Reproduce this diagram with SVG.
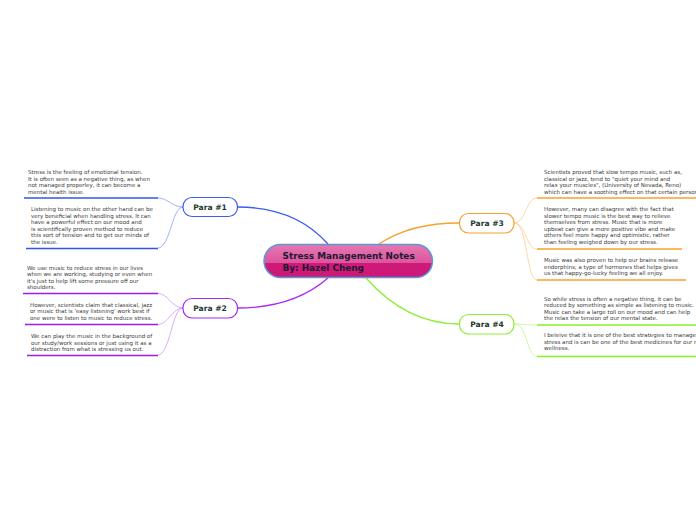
<svg xmlns="http://www.w3.org/2000/svg" width="696" height="520" viewBox="0 0 696 520">
<defs>
<linearGradient id="cg" x1="0" y1="0" x2="0" y2="1">
<stop offset="0" stop-color="#e678b2"/>
<stop offset="0.55" stop-color="#dc559e"/>
<stop offset="0.56" stop-color="#cf1a7a"/>
<stop offset="1" stop-color="#cc1877"/>
</linearGradient>
</defs>
<style>
.t{font-family:"DejaVu Sans",Verdana,sans-serif;font-size:5.5px;fill:#3a3a3a}
.p{font-family:"DejaVu Sans",Verdana,sans-serif;font-size:7.6px;font-weight:bold;fill:#1c3a2c;text-anchor:middle}
.c{font-family:"DejaVu Sans",Verdana,sans-serif;font-size:8.9px;font-weight:bold;fill:#1a1a30}
.box{fill:#fff;stroke-width:1.2}
.m{fill:none;stroke-width:1.3}
.l{fill:none;stroke-width:0.7}
.u{fill:none;stroke-width:1.6}
</style>
<g id="connectors">
<path class="m" stroke="#3a5cf0" d="M328 244 C305 218 275 207 237.5 207"/>
<path class="m" stroke="#a82af0" d="M328 278 C305 298 275 308 237.5 308"/>
<path class="m" stroke="#f7a132" d="M379 244 C400 230 425 223 459 223"/>
<path class="m" stroke="#8def35" d="M366 278 C390 305 420 324 459 324"/>
<path class="l" stroke="#7a90f5" d="M183 207 C172 207 168 198 158 198"/>
<path class="l" stroke="#7a90f5" d="M183 207 C172 207 170 248 158 248"/>
<path class="l" stroke="#cc88f5" d="M183 308 C172 308 168 293.5 158 293.5"/>
<path class="l" stroke="#cc88f5" d="M183 308 C172 308 168 324.5 158 324.5"/>
<path class="l" stroke="#cc88f5" d="M183 308 C172 308 170 355 158 355"/>
<path class="l" stroke="#fbc880" d="M514 223 C526 223 526 198 537 198"/>
<path class="l" stroke="#fbc880" d="M514 223 C526 223 526 249 537 249"/>
<path class="l" stroke="#fbc880" d="M514 223 C528 223 526 280 537 280"/>
<path class="l" stroke="#b8f585" d="M514 324 C526 324 526 325 537 325"/>
<path class="l" stroke="#b8f585" d="M514 324 C528 324 526 356 537 356"/>
<path class="u" stroke="#2f55ee" d="M24 198 H158"/>
<path class="u" stroke="#2f55ee" d="M26 248.5 H158"/>
<path class="u" stroke="#9b1ee8" d="M23 293.5 H158"/>
<path class="u" stroke="#9b1ee8" d="M25 324.5 H158"/>
<path class="u" stroke="#9b1ee8" d="M27 355.5 H158"/>
<path class="u" stroke="#f7a12c" d="M537 198 H696"/>
<path class="u" stroke="#f7a12c" d="M537 249 H682"/>
<path class="u" stroke="#f7a12c" d="M537 280 H686"/>
<path class="u" stroke="#88ee28" d="M537 325 H696"/>
<path class="u" stroke="#88ee28" d="M537 356.5 H696"/>
</g>
<g id="center">
<rect x="264" y="244.5" width="168.5" height="33" rx="16.5" fill="url(#cg)" stroke="#5a9ad2" stroke-width="1.5"/>
<text class="c" x="282.5" y="259">Stress Management Notes</text>
<text class="c" x="282.5" y="270.5">By: Hazel Cheng</text>
</g>
<g id="para1">
<rect class="box" x="183" y="197.5" width="54.5" height="19" rx="9" stroke="#3a5cf0"/>
<text class="p" x="210" y="210">Para #1</text>
</g>
<g id="para2">
<rect class="box" x="183" y="298.5" width="54.5" height="19.5" rx="9" stroke="#a82af0"/>
<text class="p" x="210" y="311">Para #2</text>
</g>
<g id="para3">
<rect class="box" x="459.5" y="213.5" width="54.5" height="19.5" rx="9" stroke="#f7a132"/>
<text class="p" x="487" y="226">Para #3</text>
</g>
<g id="para4">
<rect class="box" x="459.5" y="314.5" width="54.5" height="19.5" rx="9" stroke="#8def35"/>
<text class="p" x="487" y="327">Para #4</text>
</g>
<g id="leaf1a">
<text class="t" x="28" y="174">Stress is the feeling of emotional tension.</text>
<text class="t" x="28" y="180.6">It is often seen as a negative thing, as when</text>
<text class="t" x="28" y="187.2">not managed properley, it can become a</text>
<text class="t" x="28" y="193.8">mental health issue.</text>
</g>
<g id="leaf1b">
<text class="t" x="31" y="211">Listening to music on the other hand can be</text>
<text class="t" x="31" y="217.6">very beneficial when handling stress. It can</text>
<text class="t" x="31" y="224.2">have a powerful effect on our mood and</text>
<text class="t" x="31" y="230.8">is scientifically proven method to reduce</text>
<text class="t" x="31" y="237.4">this sort of tension and to get our minds of</text>
<text class="t" x="31" y="244">the issue.</text>
</g>
<g id="leaf2a">
<text class="t" x="27" y="270">We use music to reduce stress in our lives</text>
<text class="t" x="27" y="276.3">when we are working, studying or even when</text>
<text class="t" x="27" y="282.6">it's just to help lift some pressure off our</text>
<text class="t" x="27" y="288.9">shoulders.</text>
</g>
<g id="leaf2b">
<text class="t" x="30" y="307">However, scientists claim that classical, jazz</text>
<text class="t" x="30" y="313.4">or music that is 'easy listening' work best if</text>
<text class="t" x="30" y="319.8">one were to listen to music to reduce stress.</text>
</g>
<g id="leaf2c">
<text class="t" x="31" y="337.8">We can play the music in the background of</text>
<text class="t" x="31" y="344.5">our study/work sessions or just using it as a</text>
<text class="t" x="31" y="351.2">distraction from what is stressing us out.</text>
</g>
<g id="leaf3a">
<text class="t" x="544" y="174">Scientists proved that slow tempo music, such as,</text>
<text class="t" x="544" y="180.6">classical or jazz, tend to "quiet your mind and</text>
<text class="t" x="544" y="187.2">relax your muscles", (University of Nevada, Reno)</text>
<text class="t" x="544" y="193.8">which can have a soothing effect on that certain person.</text>
</g>
<g id="leaf3b">
<text class="t" x="544" y="211">However, many can disagree with the fact that</text>
<text class="t" x="544" y="217.5">slower tempo music is the best way to relieve</text>
<text class="t" x="544" y="224">themselves from stress. Music that is more</text>
<text class="t" x="544" y="230.5">upbeat can give a more positive vibe and make</text>
<text class="t" x="544" y="237">others feel more happy and optimistic, rather</text>
<text class="t" x="544" y="243.5">than feeling weighed down by our stress.</text>
</g>
<g id="leaf3c">
<text class="t" x="544" y="262">Music was also proven to help our brains release</text>
<text class="t" x="544" y="268.6">endorphins; a type of hormones that helps gives</text>
<text class="t" x="544" y="275.2">us that happy-go-lucky feeling we all enjoy.</text>
</g>
<g id="leaf4a">
<text class="t" x="544" y="301">So while stress is often a negative thing, it can be</text>
<text class="t" x="544" y="307.4">reduced by something as simple as listening to music.</text>
<text class="t" x="544" y="313.8">Music can take a large toll on our mood and can help</text>
<text class="t" x="544" y="320.2">the relax the tension of our mental state.</text>
</g>
<g id="leaf4b">
<text class="t" x="544" y="337">I beleive that it is one of the best strategies to manage</text>
<text class="t" x="544" y="343.6">stress and is can be one of the best medicines for our mental</text>
<text class="t" x="544" y="350.2">wellness.</text>
</g>
</svg>
